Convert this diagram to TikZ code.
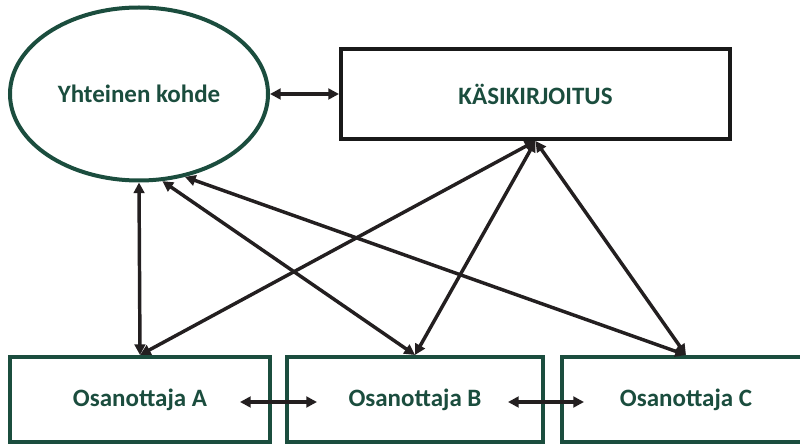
\documentclass[tikz,border=0pt]{standalone}
\usepackage{fontspec}
\setmainfont{Carlito}
\usetikzlibrary{shapes.geometric,arrows.meta,calc}
\definecolor{deepgreen}{HTML}{1B4D3E}
\definecolor{inkdark}{HTML}{231F20}
\begin{document}
\begin{tikzpicture}[x=0.75pt,y=-0.75pt,
  tagtext/.style={font=\bfseries\fontsize{18.75}{22}\selectfont, text=deepgreen, inner sep=0pt},
  greenbox/.style={rectangle, draw=deepgreen, line width=3pt, minimum height=63.75pt, tagtext},
  link/.style={draw=inkdark, line width=2.6pt,
    {Triangle[length=8pt,width=8pt]}-{Triangle[length=8pt,width=8pt]}}
]
\useasboundingbox (0,0) rectangle (800,445);
\clip (0,0) rectangle (800,445);

% top row
\node[ellipse, draw=deepgreen, line width=3pt, minimum width=193.5pt,
      minimum height=129.75pt, tagtext] (goal) at (139,94) {Yhteinen kohde};
\node[rectangle, draw=black!90, line width=3pt, minimum width=291.75pt,
      minimum height=67.5pt, tagtext] (ms) at (535.5,94) {KÄSIKIRJOITUS};

% participants
\node[greenbox, minimum width=195pt] (pa) at (140,399.5) {Osanottaja A};
\node[greenbox, minimum width=192pt] (pb) at (415,399.5) {Osanottaja B};
\node[greenbox, minimum width=186pt] (pc) at (686,399.5) {Osanottaja C};

% links between the participants
\coordinate (ab1) at (240,402);
\coordinate (ab2) at (317,402);
\coordinate (bc1) at (508,402);
\coordinate (bc2) at (584,402);

\draw[link] (goal.east) -- (ms.west);
\draw[link] (goal.south) -- (pa.north);
\draw[link] (goal.-75) -- (pb.north);
\draw[link] (goal.-61) -- (pc.north);
\draw[link] (ms.south) -- (pa.north);
\draw[link] (ms.south) -- (pb.north);
\draw[link] (ms.south) -- (pc.north);
\draw[link] (ab1) -- (ab2);
\draw[link] (bc1) -- (bc2);
\end{tikzpicture}
\end{document}
